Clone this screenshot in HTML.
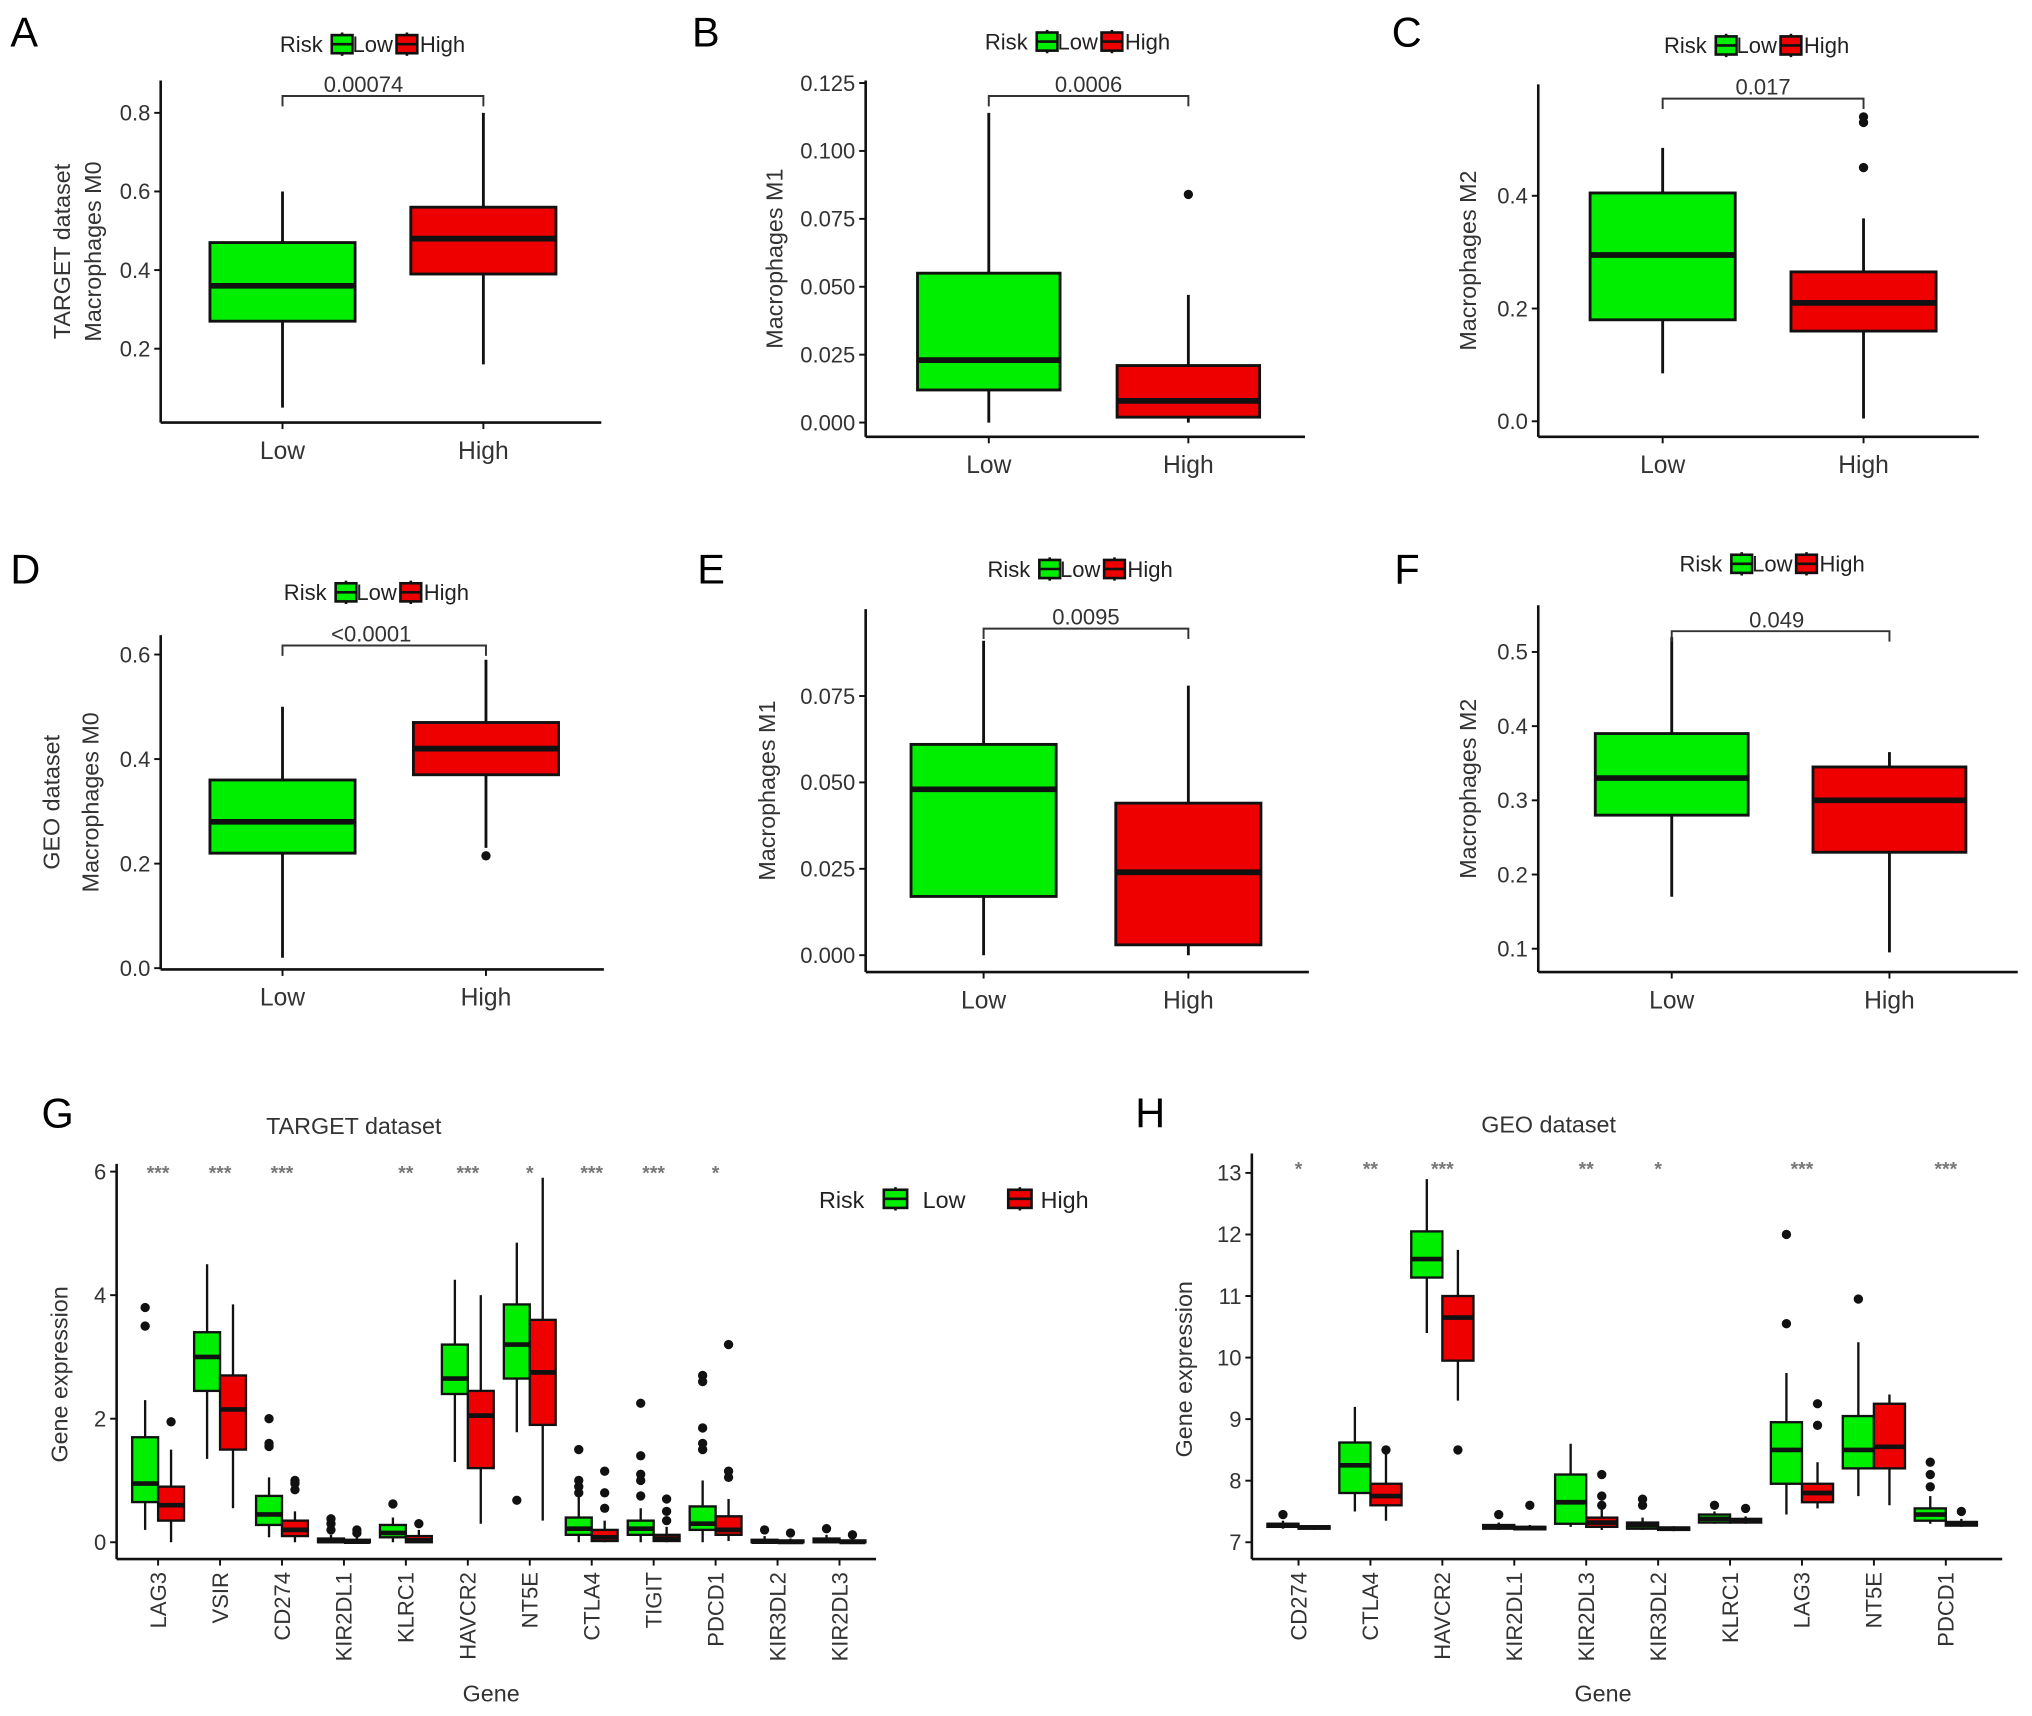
<!DOCTYPE html>
<html><head><meta charset="utf-8"><style>
html,body{margin:0;padding:0;background:#fff;}
svg{display:block;font-family:"Liberation Sans",Arial,sans-serif;}
</style></head><body>
<svg id="fig" width="2032" height="1716" viewBox="0 0 1568 1324" xmlns="http://www.w3.org/2000/svg"></svg>
<script>
// ---------- DATA ----------
// box stats: [whiskerLow, q1, median, q3, whiskerHigh]
const groups = ["Low","High"];
const aTicks = [0.2,0.4,0.6,0.8];
const aLow = [0.05,0.27,0.36,0.47,0.60];
const aHigh = [0.16,0.39,0.48,0.56,0.80];
const aOutLow = []; const aOutHigh = [];
const bTicks = [0.000,0.025,0.050,0.075,0.100,0.125];
const bLow = [0.0,0.012,0.023,0.055,0.114];
const bHigh = [0.0,0.002,0.008,0.021,0.047];
const bOutLow = []; const bOutHigh = [0.084];
const cTicks = [0.0,0.2,0.4];
const cLow = [0.085,0.18,0.295,0.405,0.485];
const cHigh = [0.005,0.16,0.21,0.265,0.36];
const cOutLow = []; const cOutHigh = [0.45,0.53,0.54];
const dTicks = [0.0,0.2,0.4,0.6];
const dLow = [0.02,0.22,0.28,0.36,0.50];
const dHigh = [0.23,0.37,0.42,0.47,0.59];
const dOutLow = []; const dOutHigh = [0.215];
const eTicks = [0.000,0.025,0.050,0.075];
const eLow = [0.0,0.017,0.048,0.061,0.091];
const eHigh = [0.0,0.003,0.024,0.044,0.078];
const eOutLow = []; const eOutHigh = [];
const fTicks = [0.1,0.2,0.3,0.4,0.5];
const fLow = [0.17,0.28,0.33,0.39,0.52];
const fHigh = [0.095,0.23,0.30,0.345,0.365];
const fOutLow = []; const fOutHigh = [];

const gGenes = ["LAG3","VSIR","CD274","KIR2DL1","KLRC1","HAVCR2","NT5E","CTLA4","TIGIT","PDCD1","KIR3DL2","KIR2DL3"];
const gStars = ["***","***","***","","**","***","*","***","***","*","",""];
const gTicks = [0,2,4,6];
const gLowStats = [[0.2,0.65,0.95,1.7,2.3],[1.35,2.45,3.0,3.4,4.5],[0.08,0.28,0.45,0.75,1.05],[0,0,0.02,0.06,0.12],[0,0.08,0.15,0.28,0.4],[1.3,2.4,2.65,3.2,4.25],[1.78,2.65,3.2,3.85,4.85],[0,0.12,0.22,0.4,0.75],[0,0.12,0.22,0.35,0.55],[0,0.2,0.3,0.58,1.0],[0,0,0.01,0.04,0.1],[0,0,0.02,0.06,0.12]];
const gHighStats = [[0,0.35,0.6,0.9,1.5],[0.55,1.5,2.15,2.7,3.85],[0,0.1,0.2,0.35,0.5],[0,0,0.01,0.04,0.08],[0,0,0.03,0.1,0.2],[0.3,1.2,2.05,2.45,4.0],[0.35,1.9,2.75,3.6,5.9],[0,0.02,0.08,0.2,0.35],[0,0.02,0.06,0.12,0.25],[0.02,0.12,0.2,0.42,0.7],[0,0,0.005,0.03,0.06],[0,0,0.005,0.03,0.06]];
const gLowOut = [[3.5,3.8],[],[1.55,1.6,2.0],[0.2,0.3,0.38],[0.62],[],[0.68],[0.8,0.9,1.0,1.5],[0.75,1.0,1.1,1.4,2.25],[1.5,1.6,1.85,2.6,2.7],[0.2],[0.22]];
const gHighOut = [[1.95],[],[0.85,0.95,1.0],[0.15,0.2],[0.3],[],[],[0.55,0.8,1.15],[0.35,0.5,0.7],[1.05,1.15,3.2],[0.15],[0.12]];

const hGenes = ["CD274","CTLA4","HAVCR2","KIR2DL1","KIR2DL3","KIR3DL2","KLRC1","LAG3","NT5E","PDCD1"];
const hStars = ["*","**","***","","**","*","","***","","***"];
const hTicks = [7,8,9,10,11,12,13];
const hLowStats = [[7.22,7.25,7.28,7.3,7.35],[7.5,7.8,8.25,8.62,9.2],[10.4,11.3,11.6,12.05,12.9],[7.2,7.22,7.25,7.28,7.32],[7.25,7.3,7.65,8.1,8.6],[7.2,7.22,7.28,7.32,7.4],[7.3,7.32,7.38,7.45,7.5],[7.45,7.95,8.5,8.95,9.75],[7.75,8.2,8.5,9.05,10.25],[7.3,7.35,7.45,7.55,7.75]];
const hHighStats = [[7.2,7.22,7.24,7.26,7.28],[7.35,7.6,7.75,7.95,8.5],[9.3,9.95,10.65,11.0,11.75],[7.2,7.21,7.23,7.25,7.28],[7.2,7.25,7.32,7.4,7.55],[7.18,7.2,7.22,7.24,7.26],[7.3,7.32,7.35,7.38,7.42],[7.55,7.65,7.8,7.95,8.3],[7.6,8.2,8.55,9.25,9.4],[7.25,7.27,7.3,7.33,7.38]];
const hLowOut = [[7.45],[],[],[7.45],[],[7.6,7.7],[7.6],[10.55,12],[10.95],[7.9,8.1,8.3]];
const hHighOut = [[],[8.5],[8.5],[7.6],[7.6,7.75,8.1],[],[7.55],[8.9,9.25],[],[7.5]];

// ---------- DRAWING ----------
const NS="http://www.w3.org/2000/svg";
const svg=document.getElementById('fig');
const GREEN="#00ee00", RED="#ee0000";
function el(tag,attrs,parent){const e=document.createElementNS(NS,tag);for(const k in attrs)e.setAttribute(k,attrs[k]);(parent||svg).appendChild(e);return e;}
function txt(s,x,y,size,anchor,parent,extra){const t=el('text',Object.assign({x:x,y:y,'font-size':size,'text-anchor':anchor||'middle',fill:'#222'},extra||{}),parent);t.textContent=s;return t;}
function linScale(v0,p0,v1,p1){return v=>p0+(v-v0)*(p1-p0)/(v1-v0);}

function drawBox(g,cx,hw,st,color,ys,outs,lw){
  lw=lw||2.2;
  const b=el('line',{x1:cx,x2:cx,y1:ys(st[0]),y2:ys(st[4]),stroke:'#111','stroke-width':lw},g);
  
  
  const r=el('rect',{x:cx-hw,y:ys(st[3]),width:2*hw,height:Math.max(1,ys(st[1])-ys(st[3])),fill:color,stroke:'#111','stroke-width':lw},g);
  
  
  const m=el('line',{x1:cx-hw,x2:cx+hw,y1:ys(st[2]),y2:ys(st[2]),stroke:'#111','stroke-width':lw*2},g);
  
  
  (outs||[]).forEach(o=>{const c=el('circle',{cx:cx,cy:ys(o),r:3.6,fill:'#111'},g);
    
    });
}
function legendKey(g,x,y,color,w){
  w=w||16;
  el('line',{x1:x+w/2,x2:x+w/2,y1:y-9,y2:y+9,stroke:'#111','stroke-width':2},g);
  el('rect',{x:x,y:y-7,width:w,height:14,fill:color,stroke:'#111','stroke-width':2},g);
  el('line',{x1:x,x2:x+w,y1:y,y2:y,stroke:'#111','stroke-width':2},g);
}
function smallLegend(name,cx,y){
  const g=el('g',{});
  
  
  txt('Risk',cx-86,y+6,17,'start',g);
  legendKey(g,cx-46,y,GREEN);
  txt('Low',cx-30,y+6,17,'start',g);
  legendKey(g,cx+4,y,RED);
  txt('High',cx+22,y+6,17,'start',g);
}

function panel(o){
  const g=el('g',{});
  
  
  const ys=linScale(o.t0v,o.t0p,o.t1v,o.t1p);
  txt(o.letter,o.lx,o.ly,32,'start',g,{fill:'#000'});
  el('line',{x1:o.ax,x2:o.ax,y1:o.top,y2:o.bottom,stroke:'#111','stroke-width':2},g);
  el('line',{x1:o.ax,x2:o.right,y1:o.bottom,y2:o.bottom,stroke:'#111','stroke-width':2},g);
  o.ticks.forEach(t=>{const y=ys(t);
    el('line',{x1:o.ax-5,x2:o.ax,y1:y,y2:y,stroke:'#111','stroke-width':1.5},g);
    txt(t.toFixed(o.dec),o.ax-8,y+6,17,'end',g,{fill:'#333'});});
  const xs=[o.xLow,o.xHigh];
  groups.forEach((gr,i)=>{
    el('line',{x1:xs[i],x2:xs[i],y1:o.bottom,y2:o.bottom+5,stroke:'#111','stroke-width':1.5},g);
    txt(gr,xs[i],o.bottom+28,19,'middle',g,{fill:'#333'});});
  drawBox(g,o.xLow,o.hw,o.low,GREEN,ys,o.outLow);
  drawBox(g,o.xHigh,o.hw,o.high,RED,ys,o.outHigh);
  el('path',{d:`M${o.xLow},${o.bry+8}V${o.bry}H${o.xHigh}V${o.bry+8}`,fill:'none',stroke:'#333','stroke-width':1.5},g);
  txt(o.p,(o.xLow+o.xHigh)/2+o.pdx,o.bry-3,17,'middle',g,{fill:'#333'});
  const yc=(o.top+o.bottom)/2;
  o.ytitle.forEach((s,i)=>{txt(s,o.ytx[i],yc,18,'middle',g,{transform:`rotate(-90 ${o.ytx[i]} ${yc})`,fill:'#333'});});
  smallLegend(o.name+'-legend',o.legx,o.legy);
}

panel({name:'panel-a',letter:'A',lx:8,ly:36,ax:124,top:62,bottom:326,right:464,ticks:aTicks,dec:1,t0v:0.2,t0p:269,t1v:0.8,t1p:87,xLow:218,xHigh:373,hw:56,low:aLow,high:aHigh,outLow:aOutLow,outHigh:aOutHigh,bry:74,p:'0.00074',pdx:-15,ytitle:['TARGET dataset','Macrophages M0'],ytx:[54,78],legx:302,legy:34});
panel({name:'panel-b',letter:'B',lx:534,ly:36,ax:668,top:62,bottom:337,right:1007,ticks:bTicks,dec:3,t0v:0,t0p:326,t1v:0.125,t1p:64,xLow:763,xHigh:917,hw:55,low:bLow,high:bHigh,outLow:bOutLow,outHigh:bOutHigh,bry:74,p:'0.0006',pdx:0,ytitle:['Macrophages M1'],ytx:[604],legx:846,legy:32});
panel({name:'panel-c',letter:'C',lx:1074,ly:36,ax:1187,top:65,bottom:337,right:1527,ticks:cTicks,dec:1,t0v:0,t0p:325,t1v:0.4,t1p:151,xLow:1283,xHigh:1438,hw:56,low:cLow,high:cHigh,outLow:cOutLow,outHigh:cOutHigh,bry:76,p:'0.017',pdx:0,ytitle:['Macrophages M2'],ytx:[1139],legx:1370,legy:35});
panel({name:'panel-d',letter:'D',lx:8,ly:450,ax:124,top:490,bottom:748,right:466,ticks:dTicks,dec:1,t0v:0,t0p:747,t1v:0.6,t1p:505,xLow:218,xHigh:375,hw:56,low:dLow,high:dHigh,outLow:dOutLow,outHigh:dOutHigh,bry:498,p:'<0.0001',pdx:-10,ytitle:['GEO dataset','Macrophages M0'],ytx:[46,76],legx:305,legy:457});
panel({name:'panel-e',letter:'E',lx:538,ly:450,ax:668,top:470,bottom:750,right:1010,ticks:eTicks,dec:3,t0v:0,t0p:737,t1v:0.075,t1p:537,xLow:759,xHigh:917,hw:56,low:eLow,high:eHigh,outLow:eOutLow,outHigh:eOutHigh,bry:485,p:'0.0095',pdx:0,ytitle:['Macrophages M1'],ytx:[598],legx:848,legy:439});
panel({name:'panel-f',letter:'F',lx:1076,ly:450,ax:1187,top:467,bottom:750,right:1557,ticks:fTicks,dec:1,t0v:0.1,t0p:732,t1v:0.5,t1p:503,xLow:1290,xHigh:1458,hw:59,low:fLow,high:fHigh,outLow:fOutLow,outHigh:fOutHigh,bry:487,p:'0.049',pdx:-3,ytitle:['Macrophages M2'],ytx:[1139],legx:1382,legy:435});

function genePanel(o){
  const g=el('g',{});
  
  
  const ys=linScale(o.t0v,o.t0p,o.t1v,o.t1p);
  const xs=i=>o.x0+i*o.dx;
  txt(o.letter,o.lx,o.ly,32,'start',g,{fill:'#000'});
  txt(o.title,o.tx,o.ty,18,'middle',g,{fill:'#333'});
  el('line',{x1:o.ax,x2:o.ax,y1:o.top,y2:o.bottom,stroke:'#111','stroke-width':2},g);
  el('line',{x1:o.ax,x2:o.right,y1:o.bottom,y2:o.bottom,stroke:'#111','stroke-width':2},g);
  o.ticks.forEach(t=>{const y=ys(t);
    el('line',{x1:o.ax-5,x2:o.ax,y1:y,y2:y,stroke:'#111','stroke-width':1.5},g);
    txt(String(t),o.ax-8,y+6,17,'end',g,{fill:'#333'});});
  o.genes.forEach((gn,i)=>{
    const x=xs(i);
    el('line',{x1:x,x2:x,y1:o.bottom,y2:o.bottom+5,stroke:'#111','stroke-width':1.5},g);
    const ly=o.bottom+10;
    txt(gn,x+6,ly,17,'end',g,{transform:`rotate(-90 ${x+6} ${ly})`,fill:'#333'});
    drawBox(g,x-o.hw,o.hw,o.low[i],GREEN,ys,o.lowOut[i],1.8);
    drawBox(g,x+o.hw,o.hw,o.high[i],RED,ys,o.highOut[i],1.8);
    if(o.stars[i]) txt(o.stars[i],x,o.sy,15,'middle',g,{fill:'#777','font-weight':'bold'});
  });
  txt('Gene',o.gx,1313,18,'middle',g,{fill:'#333'});
  const yc=(o.top+o.bottom)/2+10;
  txt('Gene expression',o.ytx,yc,18,'middle',g,{transform:`rotate(-90 ${o.ytx} ${yc})`,fill:'#333'});
}
genePanel({name:'panel-g',letter:'G',lx:32,ly:870,title:'TARGET dataset',tx:273,ty:875,ax:90,top:898,bottom:1203,right:676,ticks:gTicks,t0v:0,t0p:1190,t1v:6,t1p:904,x0:122,dx:47.8,hw:10,genes:gGenes,stars:gStars,low:gLowStats,high:gHighStats,lowOut:gLowOut,highOut:gHighOut,sy:910,gx:379,ytx:52});
genePanel({name:'panel-h',letter:'H',lx:876,ly:870,title:'GEO dataset',tx:1195,ty:874,ax:966,top:890,bottom:1203,right:1545,ticks:hTicks,t0v:7,t0p:1190,t1v:13,t1p:905,x0:1002,dx:55.5,hw:12,genes:hGenes,stars:hStars,low:hLowStats,high:hHighStats,lowOut:hLowOut,highOut:hHighOut,sy:907,gx:1237,ytx:920});

// G legend
const gl=el('g',{});


txt('Risk',632,932,18,'start',gl);
legendKey(gl,682,925,GREEN,18);
txt('Low',712,932,18,'start',gl);
legendKey(gl,778,925,RED,18);
txt('High',803,932,18,'start',gl);
</script>
</body></html>
